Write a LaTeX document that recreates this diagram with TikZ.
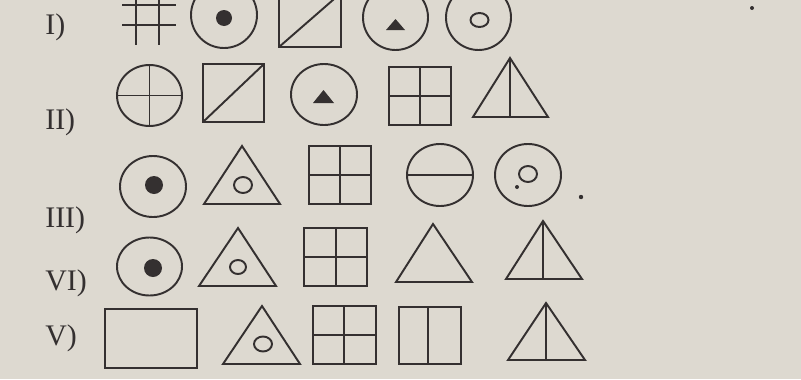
\documentclass[tikz,border=0pt]{standalone}
\usepackage{fontspec}
\setmainfont{Liberation Serif}
\usepackage{xcolor}
\usetikzlibrary{positioning}

\definecolor{paper}{RGB}{221,217,208}
\definecolor{ink}{RGB}{52,48,48}

\begin{document}
\begin{tikzpicture}[
    x=0.02cm, y=-0.02cm,
    figline/.style={draw=ink, line width=1.1pt},
    blob/.style={fill=ink},
    rowlabel/.style={anchor=west, inner sep=0pt, text=ink, font=\fontsize{17}{17}\selectfont}
]

    % page (scanned paper)
    \path[use as bounding box, fill=paper] (0,0) rectangle (801,379);

    % ==================== ROW LABELS ====================
    \node[rowlabel] (lab1) at (45,27) {I)};
    \node[rowlabel] (lab2) at (45,122) {II)};
    \node[rowlabel] (lab3) at (45,220) {III)};
    \node[rowlabel] (lab4) at (45,283) {VI)};
    \node[rowlabel] (lab5) at (45,338) {V)};

    % ==================== ROW I ====================
    % hash
    \draw[figline] (136,-2) -- (136,45);
    \draw[figline] (159,-2) -- (159,45);
    \draw[figline] (122,5) -- (176,5);
    \draw[figline] (122,25) -- (176,25);
    % circle with dot
    \draw[figline] (224,15) ellipse [x radius=33, y radius=33];
    \fill[blob] (224,18) circle [radius=8];
    % square with diagonal
    \draw[figline] (279,-7) rectangle (341,47);
    \draw[figline] (279,47) -- (341,-7);
    % circle with triangle
    \draw[figline] (395.5,17.5) ellipse [x radius=32.5, y radius=32.5];
    \fill[blob] (386,30) -- (405,30) -- (395.5,19) -- cycle;
    % circle with small circle
    \draw[figline] (478.5,17.5) ellipse [x radius=32.5, y radius=32.5];
    \draw[figline] (479.5,20) ellipse [x radius=9, y radius=7];

    % ==================== ROW II ====================
    % circle with cross
    \draw[figline] (149.5,95.5) ellipse [x radius=32.5, y radius=30.5];
    \draw[figline] (117,95.5) -- (182,95.5);
    \draw[figline] (149.5,65) -- (149.5,126);
    % square with diagonal
    \draw[figline] (203,64) rectangle (264,122);
    \draw[figline] (203,122) -- (264,64);
    % circle with triangle
    \draw[figline] (324,94.5) ellipse [x radius=33, y radius=30.5];
    \fill[blob] (313,103) -- (334,103) -- (323.5,90) -- cycle;
    % square with cross
    \draw[figline] (389,67) rectangle (451,125);
    \draw[figline] (420,67) -- (420,125);
    \draw[figline] (389,96) -- (451,96);
    % triangle with middle line
    \draw[figline] (473,117) -- (548,117) -- (510,58) -- cycle;
    \draw[figline] (510,58) -- (510,117);

    % ==================== ROW III ====================
    % circle with dot
    \draw[figline] (153,186.5) ellipse [x radius=33, y radius=30.5];
    \fill[blob] (154,185) circle [radius=9];
    % triangle with small circle
    \draw[figline] (204,204) -- (280,204) -- (242,146) -- cycle;
    \draw[figline] (243,185) ellipse [x radius=9, y radius=8];
    % square with cross
    \draw[figline] (309,146) rectangle (371,204);
    \draw[figline] (340,146) -- (340,204);
    \draw[figline] (309,175) -- (371,175);
    % circle with horizontal line
    \draw[figline] (440,175) ellipse [x radius=33, y radius=31];
    \draw[figline] (407,175) -- (473,175);
    % circle with small circle
    \draw[figline] (528,175) ellipse [x radius=33, y radius=31];
    \draw[figline] (528,174) ellipse [x radius=9, y radius=8];
    \fill[blob] (517,187) circle [radius=2];
    \fill[blob] (581,197) circle [radius=2.2];

    % ==================== ROW VI ====================
    % circle with dot
    \draw[figline] (149.5,266.5) ellipse [x radius=32.5, y radius=29];
    \fill[blob] (153,268) circle [radius=9];
    % triangle with small circle
    \draw[figline] (199,286) -- (276,286) -- (238,228) -- cycle;
    \draw[figline] (238,267) ellipse [x radius=8, y radius=7];
    % square with cross
    \draw[figline] (304,228) rectangle (367,286);
    \draw[figline] (336,228) -- (336,286);
    \draw[figline] (304,257) -- (367,257);
    % plain triangle
    \draw[figline] (396,282) -- (472,282) -- (433,224) -- cycle;
    % triangle with middle line
    \draw[figline] (506,279) -- (582,279) -- (543,221) -- cycle;
    \draw[figline] (543,221) -- (543,279);

    % ==================== ROW V ====================
    % rectangle
    \draw[figline] (105,309) rectangle (197,368);
    % triangle with small circle
    \draw[figline] (223,364) -- (300,364) -- (262,306) -- cycle;
    \draw[figline] (263,344) ellipse [x radius=9, y radius=7.5];
    % square with cross
    \draw[figline] (313,306) rectangle (376,364);
    \draw[figline] (344,306) -- (344,364);
    \draw[figline] (313,335) -- (376,335);
    % rectangle split in two
    \draw[figline] (399,307) rectangle (461,364);
    \draw[figline] (428,307) -- (428,364);
    % triangle with middle line
    \draw[figline] (508,360) -- (585,360) -- (546,303) -- cycle;
    \draw[figline] (546,303) -- (546,360);

    % stray dot
    \fill[blob] (752,8) circle [radius=2];
\end{tikzpicture}
\end{document}
